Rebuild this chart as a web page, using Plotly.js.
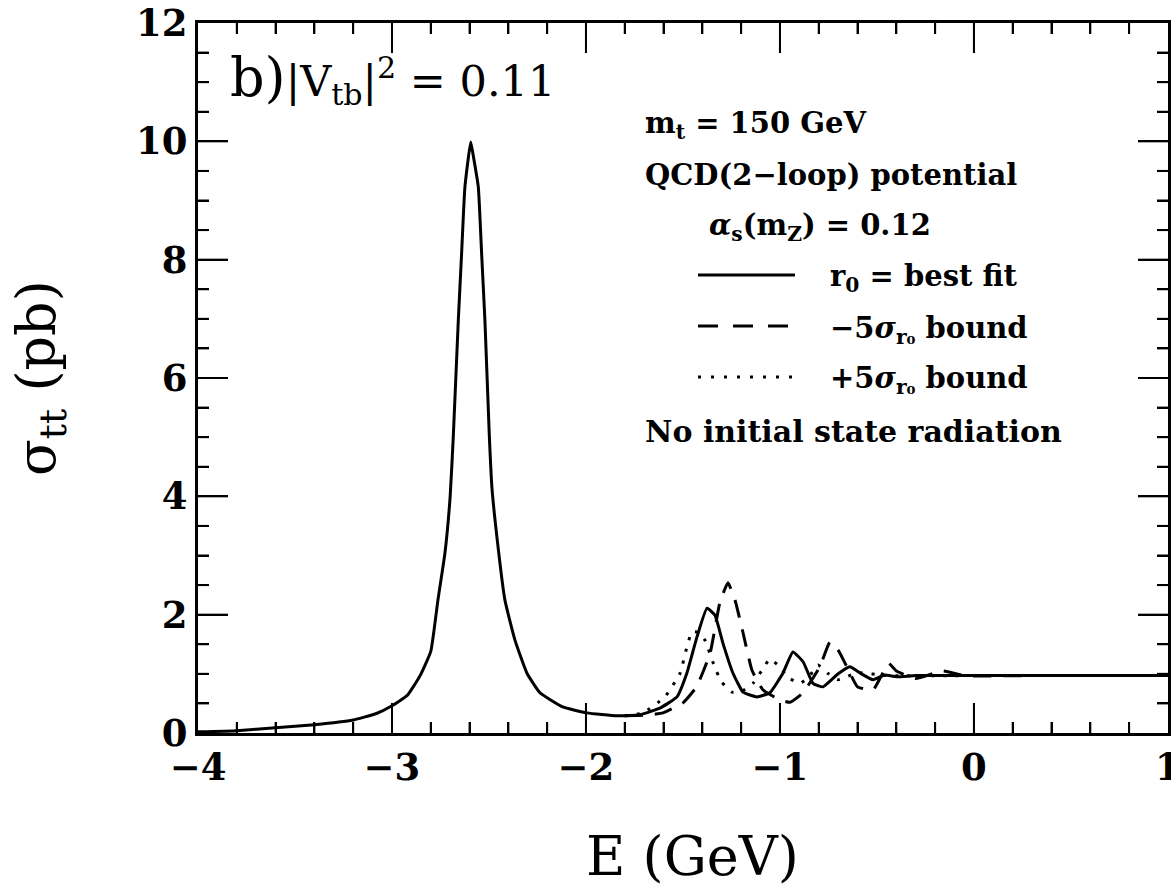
<!DOCTYPE html>
<html>
<head>
<meta charset="utf-8">
<script src="https://cdn.plot.ly/plotly-3.0.1.min.js"></script>
<style>html,body{margin:0;padding:0;background:#fff;}#chart{width:1171px;height:892px;}</style>
</head>
<body>
<div id="chart"></div>
<script>
// ---- data ----
const E_best = [-4.0, -3.8, -3.6, -3.4, -3.2, -3.08, -3.0, -2.92, -2.855, -2.80, -2.763, -2.727, -2.70, -2.684, -2.658, -2.641, -2.624, -2.594, -2.58, -2.555, -2.538, -2.521, -2.498, -2.485, -2.459, -2.418, -2.366, -2.304, -2.237, -2.12, -1.995, -1.84, -1.72, -1.619, -1.531, -1.48, -1.428, -1.376, -1.335, -1.294, -1.242, -1.19, -1.119, -1.052, -0.985, -0.933, -0.88, -0.83, -0.778, -0.70, -0.64, -0.58, -0.52, -0.46, -0.40, -0.3, 0, 0.5, 1.0];
const sigma_best = [0.02, 0.04, 0.09, 0.14, 0.22, 0.33, 0.46, 0.64, 0.97, 1.38, 2.25, 3.04, 4.0, 5.01, 6.98, 8.11, 9.23, 9.99, 9.74, 9.23, 8.11, 6.98, 5.01, 4.16, 3.31, 2.25, 1.57, 1.01, 0.68, 0.44, 0.34, 0.29, 0.31, 0.42, 0.61, 1.01, 1.62, 2.11, 1.99, 1.52, 1.01, 0.69, 0.61, 0.68, 1.01, 1.37, 1.20, 0.84, 0.78, 1.00, 1.12, 1.00, 0.90, 0.98, 0.95, 0.97, 0.97, 0.97, 0.97];

const E_minus = [-1.80, -1.70, -1.603, -1.5, -1.43, -1.36, -1.31, -1.268, -1.232, -1.19, -1.144, -1.088, -1.0, -0.948, -0.881, -0.794, -0.742, -0.70, -0.655, -0.60, -0.52, -0.48, -0.44, -0.40, -0.30, -0.16, -0.05, 0.3, 1.0];
const sigma_minus = [0.29, 0.30, 0.34, 0.51, 0.78, 1.35, 2.2, 2.54, 2.25, 1.69, 1.06, 0.73, 0.56, 0.52, 0.68, 1.12, 1.54, 1.40, 1.12, 0.78, 0.73, 0.95, 1.18, 1.05, 0.92, 1.05, 0.97, 0.97, 0.97];

const E_plus = [-1.80, -1.706, -1.593, -1.515, -1.48, -1.454, -1.42, -1.387, -1.335, -1.3, -1.247, -1.19, -1.139, -1.093, -1.052, -1.0, -0.964, -0.897, -0.85, -0.804, -0.75, -0.70, -0.60, -0.45, 0, 1.0];
const sigma_plus = [0.29, 0.34, 0.61, 1.01, 1.45, 1.71, 1.70, 1.57, 1.10, 0.86, 0.69, 0.72, 0.84, 1.06, 1.25, 1.12, 0.95, 0.84, 0.95, 1.15, 1.0, 0.90, 1.02, 0.97, 0.97, 0.97];

const seriesNames = ["r₀ = best fit", "−5σ bound", "+5σ bound"];
const xTickVals = [-4, -3, -2, -1, 0, 1];
const yTickVals = [0, 2, 4, 6, 8, 10, 12];
const xMinorStep = 0.2;
const yMinorStep = 0.5;
const xTitle = "E (GeV)";
const yTitle = "σ<sub>tt</sub> (pb)";

// ---- styling ----
const serif = "DejaVu Serif";
const ink = "#000";
const MAJOR_LEN = 30, MINOR_LEN = 11;
const PLOT_W = 970, PLOT_H = 710;

const xStart = xTickVals[0], xEnd = xTickVals[xTickVals.length - 1];
const yStart = yTickVals[0], yEnd = yTickVals[yTickVals.length - 1];
const xRange = [xStart, xEnd + 0.0005];
const yRange = [yStart, yEnd];
const pxPerX = PLOT_W / (xRange[1] - xRange[0]);
const pxPerY = PLOT_H / (yRange[1] - yRange[0]);

const traces = [
  {x: E_best, y: sigma_best, name: seriesNames[0], mode: "lines",
   line: {color: ink, width: 3, shape: "spline", smoothing: 0.4}},
  {x: E_minus, y: sigma_minus, name: seriesNames[1], mode: "lines",
   line: {color: ink, width: 3, dash: "18px,12px", shape: "spline", smoothing: 0.4}},
  {x: E_plus, y: sigma_plus, name: seriesNames[2], mode: "lines",
   line: {color: ink, width: 3, dash: "3px,9px", shape: "spline", smoothing: 0.4}}
];

// inside tick marks on all four sides, built from the tick arrays and drawn through the axes
function isMajor(v, vals){ return vals.some(t => Math.abs(t - v) < 1e-6); }
const tx = [], ty = [];
const nx = Math.round((xEnd - xStart) / xMinorStep);
for (let i = 1; i < nx; i++) {
  const v = +(xStart + i * xMinorStep).toFixed(6);
  const len = (isMajor(v, xTickVals) ? MAJOR_LEN : MINOR_LEN) / pxPerY;
  tx.push(v, v, null, v, v, null);
  ty.push(yStart, yStart + len, null, yEnd, yEnd - len, null);
}
const ny = Math.round((yEnd - yStart) / yMinorStep);
for (let i = 1; i < ny; i++) {
  const v = +(yStart + i * yMinorStep).toFixed(6);
  const len = (isMajor(v, yTickVals) ? MAJOR_LEN : MINOR_LEN) / pxPerX;
  tx.push(xRange[0], xRange[0] + len, null, xRange[1], xRange[1] - len, null);
  ty.push(v, v, null, v, v, null);
}
traces.push({x: tx, y: ty, mode: "lines", line: {color: ink, width: 2}, connectgaps: false,
             hoverinfo: "skip", showlegend: false, cliponaxis: false});

function paperY(py){ return (733 - py) / PLOT_H; }
function paperX(px){ return (px - 198) / PLOT_W; }

function ann(text, px, baseline, size){
  return {text: text, xref: "paper", yref: "paper", x: paperX(px), y: paperY(baseline - 10),
          xanchor: "left", yanchor: "middle", showarrow: false,
          font: {family: serif, size: size || 29, color: ink, weight: "bold"}};
}

const annotations = [
  {text: '<span style="font-size:54px">b)</span>|V<sub>tb</sub>|<sup>2</sup> = 0.11',
   xref: "paper", yref: "paper", x: paperX(228), y: paperY(79), xanchor: "left", yanchor: "middle",
   showarrow: false, font: {family: serif, size: 43, color: ink}},
  ann("m<sub>t</sub> = 150 GeV", 643, 135),
  ann("QCD(2−loop) potential", 643, 185),
  ann("<i>α</i><sub>s</sub>(m<sub>Z</sub>) = 0.12", 707, 237),
  ann("r<sub>0</sub> = best fit", 828, 288),
  ann("−5<i>σ</i><sub>r₀</sub> bound", 828, 340),
  ann("+5<i>σ</i><sub>r₀</sub> bound", 828, 390),
  ann("No initial state radiation", 643, 441, 30),
  {text: xTitle, xref: "paper", yref: "paper", x: paperX(692), y: paperY(856),
   xanchor: "center", yanchor: "middle", showarrow: false, font: {family: serif, size: 54, color: ink}},
  {text: yTitle, xref: "paper", yref: "paper", x: paperX(40), y: 0.5, textangle: -90,
   xanchor: "center", yanchor: "middle", showarrow: false, font: {family: serif, size: 54, color: ink}}
];

// legend key lines
const shapes = [
  {type: "line", xref: "paper", yref: "paper", x0: paperX(698), x1: paperX(795), y0: paperY(275), y1: paperY(275),
   line: {color: ink, width: 3}},
  {type: "line", xref: "paper", yref: "paper", x0: paperX(698), x1: paperX(792), y0: paperY(326), y1: paperY(326),
   line: {color: ink, width: 3, dash: "20px,15px"}},
  {type: "line", xref: "paper", yref: "paper", x0: paperX(698), x1: paperX(795), y0: paperY(377), y1: paperY(377),
   line: {color: ink, width: 3, dash: "3px,10px"}}
];

const layout = {
  width: 1171, height: 892,
  margin: {l: 198, r: 3, t: 23, b: 159},
  showlegend: false,
  xaxis: {
    range: xRange,
    tickmode: "linear", tick0: xStart, dtick: xTickVals[1] - xTickVals[0],
    ticks: "inside", ticklen: MAJOR_LEN, tickwidth: 2, tickcolor: ink,
    showline: true, linewidth: 3, linecolor: ink, mirror: "ticks", showgrid: false, zeroline: false,
    minor: {dtick: xMinorStep, ticks: "inside", ticklen: MINOR_LEN, tickwidth: 2, tickcolor: ink},
    ticklabeloverflow: "allow",
    tickfont: {family: serif, size: 37, color: ink, weight: "bold"}
  },
  yaxis: {
    range: yRange,
    tickmode: "linear", tick0: yStart, dtick: yTickVals[1] - yTickVals[0],
    ticks: "inside", ticklen: MAJOR_LEN, tickwidth: 2, tickcolor: ink,
    showline: true, linewidth: 3, linecolor: ink, mirror: "ticks", showgrid: false, zeroline: false,
    minor: {dtick: yMinorStep, ticks: "inside", ticklen: MINOR_LEN, tickwidth: 2, tickcolor: ink},
    tickfont: {family: serif, size: 37, color: ink, weight: "bold"}
  },
  annotations: annotations,
  shapes: shapes
};

Plotly.newPlot("chart", traces, layout, {displayModeBar: false, staticPlot: true});
</script>
</body>
</html>
